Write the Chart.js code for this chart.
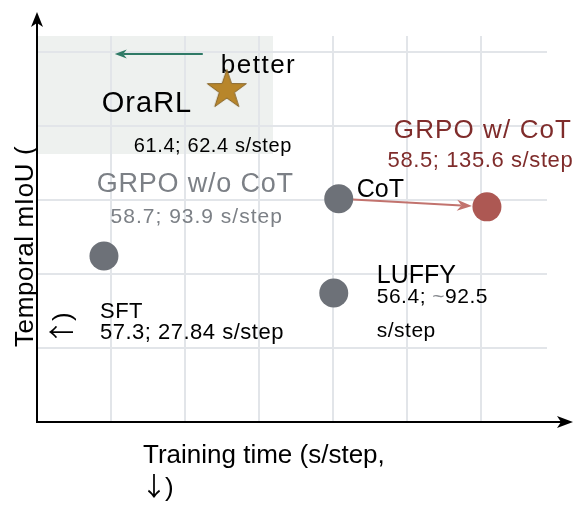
<!DOCTYPE html>
<html>
<head>
<meta charset="utf-8">
<script src="https://cdn.jsdelivr.net/npm/chart.js@4.4.1/dist/chart.umd.min.js"></script>
<style>
  body { margin: 0; background: #ffffff; }
</style>
</head>
<body>
<canvas id="myChart" width="585" height="512"></canvas>
<script>
// Datos del gráfico
const methods = ['OraRL', 'GRPO w/o CoT', 'GRPO w/ CoT', 'SFT', 'LUFFY'];
const trainTime = [62.4, 93.9, 135.6, 27.84, 92.5]; // s/step (eje X)
const mIoU = [61.4, 58.7, 58.5, 57.3, 56.4];        // Temporal mIoU (eje Y)
const valueLabels = ['61.4; 62.4 s/step', '58.7; 93.9 s/step', '58.5; 135.6 s/step', '57.3; 27.84 s/step', '56.4; ~92.5'];

// Rango de los ejes y líneas de la cuadrícula (sin etiquetas)
const xRange = [9, 152.5];
const yRange = [53.25, 62.67];
const xGrid = [9, 29.82, 50.64, 71.46, 92.28, 113.1, 133.92];
const yGrid = [53.25, 55.06, 56.86, 58.67, 60.47, 62.28];

// Zona sombreada ("better")
const bestZone = { xMax: 75.4, yMin: 59.79 };

const FONT = '"Liberation Sans", Arial, sans-serif';
const CJK = '"Noto Sans CJK SC", sans-serif';
const GRAY = '#6d7178';
const RED = '#ad5853';
const DARKRED = '#7f2c2b';
const LIGHTGRAY = '#7c8086';

// Estrella para OraRL
function makeStar() {
  const c = document.createElement('canvas');
  c.width = 46; c.height = 46;
  const g = c.getContext('2d');
  g.beginPath();
  for (let k = 0; k < 10; k++) {
    const r = k % 2 ? 8 : 20.5;
    const a = -Math.PI / 2 + k * Math.PI / 5;
    g.lineTo(23 + r * Math.cos(a), 25 + r * Math.sin(a));
  }
  g.closePath();
  g.fillStyle = '#b8862b';
  g.fill();
  g.strokeStyle = '#86652a';
  g.lineWidth = 1;
  g.stroke();
  return c;
}

// Textos anclados a cada punto (desplazamiento en px desde el punto)
const notes = [
  { i: 0, text: methods[0], dx: -125, dy: 24, size: 29, ls: 1 },
  { i: 0, text: valueLabels[0], dx: -93, dy: 64, size: 20, ls: 0.6 },
  { i: 0, text: 'better', dx: -6, dy: -15, size: 26, ls: 1.5 },
  { i: 1, text: methods[1], dx: -143.5, dy: -7, size: 27, ls: 0.8, color: LIGHTGRAY, align: 'center' },
  { i: 1, text: valueLabels[1], dx: -142, dy: 24, size: 21, ls: 1, color: LIGHTGRAY, align: 'center' },
  { i: 1, text: 'CoT', dx: 18, dy: -2, size: 25 },
  { i: 2, text: methods[2], dx: -4, dy: -69, size: 26, ls: 1.1, color: DARKRED, align: 'center' },
  { i: 2, text: valueLabels[2], dx: -6.5, dy: -40, size: 22, ls: 0.6, color: DARKRED, align: 'center' },
  { i: 3, text: methods[3], dx: -4, dy: 62, size: 22, ls: 0.5 },
  { i: 3, text: valueLabels[3], dx: -4, dy: 83, size: 22, ls: 0.5 },
  { i: 4, text: methods[4], dx: 43, dy: -10, size: 25 },
  { i: 4, text: [['56.4; ', '#000'], ['~', '#8a8d92'], ['92.5', '#000']], dx: 43, dy: 10, size: 21, ls: 0.5 },
  { i: 4, text: 's/step', dx: 43, dy: 44, size: 21, ls: 0.5 }
];

function drawText(ctx, x, y, n) {
  ctx.font = n.size + 'px ' + FONT;
  ctx.letterSpacing = (n.ls || 0) + 'px';
  ctx.textAlign = 'left';
  ctx.textBaseline = 'alphabetic';
  const parts = Array.isArray(n.text) ? n.text : [[n.text, n.color || '#000']];
  const total = parts.reduce((w, p) => w + ctx.measureText(p[0]).width, 0);
  let cx = n.align === 'center' ? x - total / 2 : x;
  parts.forEach(p => {
    ctx.fillStyle = p[1];
    ctx.fillText(p[0], cx, y);
    cx += ctx.measureText(p[0]).width;
  });
  ctx.letterSpacing = '0px';
}

// Flecha (carácter CJK ancho) seguida de ")"
function arrowParen(ctx, ch, x, y) {
  ctx.font = '26px ' + CJK;
  ctx.fillText(ch, x, y);
  const w = ctx.measureText(ch).width;
  ctx.font = '26px ' + FONT;
  ctx.fillText(')', x + w - 2, y);
}

// Flecha con punta tipo "stealth"
function arrow(ctx, x1, y1, x2, y2, color, width, len, half) {
  const ang = Math.atan2(y2 - y1, x2 - x1);
  ctx.strokeStyle = color;
  ctx.fillStyle = color;
  ctx.lineWidth = width;
  ctx.beginPath();
  ctx.moveTo(x1, y1);
  ctx.lineTo(x2 - Math.cos(ang) * len * 0.7, y2 - Math.sin(ang) * len * 0.7);
  ctx.stroke();
  ctx.save();
  ctx.translate(x2, y2);
  ctx.rotate(ang);
  ctx.beginPath();
  ctx.moveTo(0, 0);
  ctx.lineTo(-len, -half);
  ctx.lineTo(-len * 0.7, 0);
  ctx.lineTo(-len, half);
  ctx.closePath();
  ctx.fill();
  ctx.restore();
}

function pointPx(chart, i) {
  return { x: chart.scales.x.getPixelForValue(trainTime[i]), y: chart.scales.y.getPixelForValue(mIoU[i]) };
}

// Plugin para sombreado, flechas, textos y ejes
const decorations = {
  id: 'decorations',
  beforeDraw(chart) {
    const { ctx, chartArea, scales } = chart;
    ctx.save();
    ctx.fillStyle = '#eef1ef';
    const xr = scales.x.getPixelForValue(bestZone.xMax);
    const yb = scales.y.getPixelForValue(bestZone.yMin);
    ctx.fillRect(chartArea.left, chartArea.top, xr - chartArea.left, yb - chartArea.top);
    ctx.restore();
  },
  beforeDatasetsDraw(chart) {
    const ctx = chart.ctx;
    ctx.save();
    // Textos junto a los puntos
    notes.forEach(n => {
      const p = pointPx(chart, n.i);
      drawText(ctx, p.x + n.dx, p.y + n.dy, n);
    });
    // Flecha "better"
    const s = pointPx(chart, 0);
    arrow(ctx, s.x - 24, s.y - 34, s.x - 112, s.y - 34, '#2f7a66', 2, 12, 4.5);
    // Flecha de GRPO w/o CoT a GRPO w/ CoT
    const a = pointPx(chart, 1), b = pointPx(chart, 2);
    const ang = Math.atan2(b.y - a.y, b.x - a.x);
    arrow(ctx, a.x + Math.cos(ang) * 14, a.y + Math.sin(ang) * 14,
      b.x - Math.cos(ang) * 15, b.y - Math.sin(ang) * 15, '#c2736e', 2, 15, 5.5);
    ctx.restore();
  },
  afterDraw(chart) {
    const { ctx, chartArea } = chart;
    const ox = chartArea.left, oy = chartArea.bottom;
    ctx.save();
    ctx.strokeStyle = '#000';
    ctx.fillStyle = '#000';
    ctx.lineWidth = 2;
    ctx.beginPath();
    ctx.moveTo(ox, oy);
    ctx.lineTo(ox, 20);
    ctx.moveTo(ox - 1, oy);
    ctx.lineTo(565, oy);
    ctx.stroke();
    // Puntas de los ejes
    ctx.beginPath();
    ctx.moveTo(ox, 12); ctx.lineTo(ox + 6, 27); ctx.lineTo(ox, 23); ctx.lineTo(ox - 6, 27);
    ctx.closePath(); ctx.fill();
    ctx.beginPath();
    ctx.moveTo(573, oy); ctx.lineTo(557, oy - 6); ctx.lineTo(561, oy); ctx.lineTo(557, oy + 6);
    ctx.closePath(); ctx.fill();

    // Títulos de los ejes
    ctx.font = '26px ' + FONT;
    ctx.textAlign = 'left';
    ctx.textBaseline = 'alphabetic';
    ctx.fillText('Training time (s/step,', 143, 463);
    arrowParen(ctx, '↓', 141, 496);
    ctx.translate(33, 347);
    ctx.rotate(-Math.PI / 2);
    ctx.letterSpacing = '0.6px';
    ctx.font = '26px ' + FONT;
    ctx.fillText('Temporal mIoU (', 0, 0);
    ctx.letterSpacing = '0px';
    arrowParen(ctx, '↑', 2, 38);
    ctx.restore();
  }
};

const ctx = document.getElementById('myChart').getContext('2d');
const chart = new Chart(ctx, {
  type: 'scatter',
  data: {
    datasets: [{
      label: 'Métodos',
      data: trainTime.map((t, i) => ({ x: t, y: mIoU[i] })),
      pointStyle: [makeStar(), 'circle', 'circle', 'circle', 'circle'],
      backgroundColor: ['#b8862b', GRAY, RED, GRAY, GRAY],
      borderColor: ['#b8862b', GRAY, RED, GRAY, GRAY],
      borderWidth: 0,
      pointRadius: 14.5,
      pointHoverRadius: 14.5
    }]
  },
  options: {
    responsive: false,
    animation: false,
    layout: { padding: { left: 37, top: 36, right: 38, bottom: 90 } },
    plugins: {
      legend: { display: false },
      tooltip: { enabled: false }
    },
    scales: {
      x: {
        type: 'linear',
        min: xRange[0],
        max: xRange[1],
        afterBuildTicks: scale => { scale.ticks = xGrid.map(v => ({ value: v })); },
        ticks: { display: false },
        grid: { color: '#e2e5e9', lineWidth: 2, drawTicks: false },
        border: { display: false }
      },
      y: {
        type: 'linear',
        min: yRange[0],
        max: yRange[1],
        afterBuildTicks: scale => { scale.ticks = yGrid.map(v => ({ value: v })); },
        ticks: { display: false },
        grid: { color: '#e2e5e9', lineWidth: 2, drawTicks: false },
        border: { display: false }
      }
    }
  },
  plugins: [decorations]
});
</script>
</body>
</html>
